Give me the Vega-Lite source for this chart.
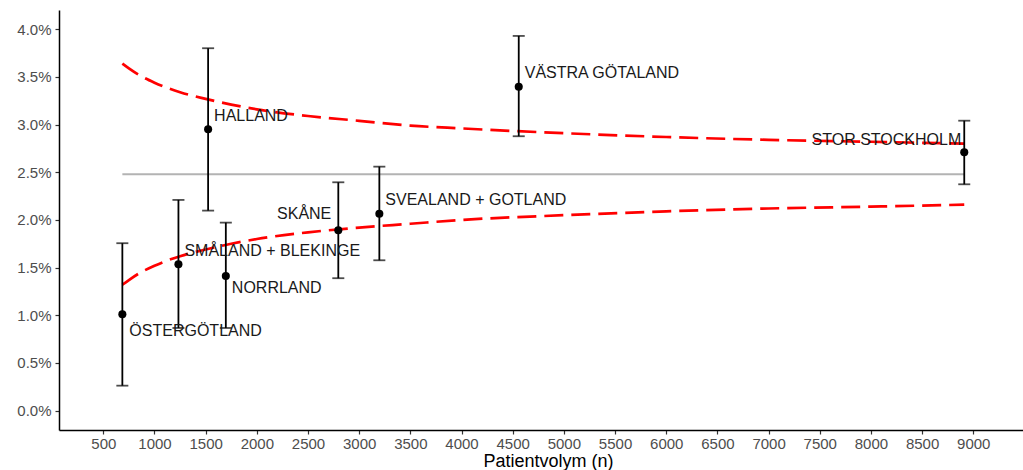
{
  "$schema": "https://vega.github.io/schema/vega-lite/v6.json",
  "width": 964,
  "height": 420,
  "autosize": {"type": "none"},
  "padding": {"left": 59, "top": 10, "right": 0, "bottom": 40},
  "background": "white",
  "config": {"view": {"stroke": null}, "font": "Liberation Sans"},
  "datasets": {
    "regions": [
      {"name": "ÖSTERGÖTLAND", "n": 686, "rate": 0.01011, "lo": 0.00262, "hi": 0.01756},
      {"name": "SMÅLAND + BLEKINGE", "n": 1234, "rate": 0.01535, "lo": 0.00867, "hi": 0.02210},
      {"name": "HALLAND", "n": 1524, "rate": 0.02951, "lo": 0.02098, "hi": 0.03801},
      {"name": "NORRLAND", "n": 1697, "rate": 0.01413, "lo": 0.00867, "hi": 0.01972},
      {"name": "SKÅNE", "n": 2796, "rate": 0.01892, "lo": 0.01389, "hi": 0.02395},
      {"name": "SVEALAND + GOTLAND", "n": 3197, "rate": 0.02066, "lo": 0.01577, "hi": 0.02559},
      {"name": "VÄSTRA GÖTALAND", "n": 4559, "rate": 0.03398, "lo": 0.02878, "hi": 0.03930},
      {"name": "STOR STOCKHOLM", "n": 8912, "rate": 0.02710, "lo": 0.02374, "hi": 0.03041}
    ],
    "limits": [
      {"n": 686, "upper": 0.0364, "lower": 0.0132, "mean": 0.02479},
      {"n": 750, "upper": 0.0359, "lower": 0.0137, "mean": 0.02479},
      {"n": 850, "upper": 0.0352, "lower": 0.0144, "mean": 0.02479},
      {"n": 1000, "upper": 0.0344, "lower": 0.0152, "mean": 0.02479},
      {"n": 1250, "upper": 0.0334, "lower": 0.0162, "mean": 0.02479},
      {"n": 1500, "upper": 0.0327, "lower": 0.0169, "mean": 0.02479},
      {"n": 1750, "upper": 0.0321, "lower": 0.0175, "mean": 0.02479},
      {"n": 2000, "upper": 0.0316, "lower": 0.0180, "mean": 0.02479},
      {"n": 2500, "upper": 0.0309, "lower": 0.0187, "mean": 0.02479},
      {"n": 3000, "upper": 0.0304, "lower": 0.0192, "mean": 0.02479},
      {"n": 3500, "upper": 0.0299, "lower": 0.0196, "mean": 0.02479},
      {"n": 4000, "upper": 0.0296, "lower": 0.0200, "mean": 0.02479},
      {"n": 5000, "upper": 0.0291, "lower": 0.0205, "mean": 0.02479},
      {"n": 6000, "upper": 0.0287, "lower": 0.0209, "mean": 0.02479},
      {"n": 7000, "upper": 0.0284, "lower": 0.0212, "mean": 0.02479},
      {"n": 8000, "upper": 0.0282, "lower": 0.0214, "mean": 0.02479},
      {"n": 8912, "upper": 0.0280, "lower": 0.0216, "mean": 0.02479}
    ]
  },
  "encoding": {
    "x": {
      "field": "n",
      "type": "quantitative",
      "scale": {"domain": [67, 9486], "nice": false, "zero": false},
      "axis": {
        "title": "Patientvolym (n)",
        "values": [500, 1000, 1500, 2000, 2500, 3000, 3500, 4000, 4500, 5000, 5500, 6000, 6500, 7000, 7500, 8000, 8500, 9000],
        "format": "d",
        "grid": false,
        "labelFontSize": 15,
        "labelColor": "#4d4d4d",
        "labelFlush": false,
        "labelOverlap": false,
        "labelPadding": 2,
        "tickSize": 4,
        "tickColor": "#333333",
        "tickWidth": 1.2,
        "domainColor": "#000000",
        "domainWidth": 1.5,
        "titleFontSize": 18,
        "titleFontWeight": "normal",
        "titleColor": "#000000",
        "titlePadding": 1,
        "titleX": 489
      }
    }
  },
  "layer": [
    {
      "data": {"name": "limits"},
      "mark": {"type": "line", "color": "#b3b3b3", "strokeWidth": 2},
      "encoding": {
        "y": {
          "field": "mean",
          "type": "quantitative",
          "title": null,
          "scale": {"domain": [-0.00203, 0.04202], "nice": false, "zero": false},
          "axis": {
            "title": null,
            "values": [0, 0.005, 0.01, 0.015, 0.02, 0.025, 0.03, 0.035, 0.04],
            "format": ".1%",
            "grid": false,
            "labelFontSize": 15,
            "labelColor": "#4d4d4d",
            "labelPadding": 4,
            "tickSize": 4,
            "tickColor": "#333333",
            "tickWidth": 1.2,
            "domainColor": "#000000",
            "domainWidth": 1.5
          }
        }
      }
    },
    {
      "data": {"name": "limits"},
      "mark": {"type": "line", "color": "#ff0000", "strokeWidth": 2.7, "strokeDash": [19, 8], "interpolate": "monotone"},
      "encoding": {"y": {"field": "upper", "type": "quantitative", "title": null}}
    },
    {
      "data": {"name": "limits"},
      "mark": {"type": "line", "color": "#ff0000", "strokeWidth": 2.7, "strokeDash": [19, 8], "interpolate": "monotone"},
      "encoding": {"y": {"field": "lower", "type": "quantitative", "title": null}}
    },
    {
      "data": {"name": "regions"},
      "mark": {"type": "errorbar", "color": "#000000", "thickness": 1.8, "ticks": {"size": 12, "thickness": 1.8, "color": "#000000"}},
      "encoding": {
        "y": {"field": "lo", "type": "quantitative", "title": null},
        "y2": {"field": "hi"}
      }
    },
    {
      "data": {"name": "regions"},
      "mark": {"type": "point", "filled": true, "color": "#000000", "opacity": 1, "size": 65},
      "encoding": {"y": {"field": "rate", "type": "quantitative", "title": null}}
    },
    {
      "data": {"name": "regions"},
      "transform": [{"filter": {"field": "name", "oneOf": ["SMÅLAND + BLEKINGE", "HALLAND", "SVEALAND + GOTLAND", "VÄSTRA GÖTALAND"]}}],
      "mark": {"type": "text", "align": "left", "baseline": "middle", "dx": 6, "dy": -13.5, "fontSize": 16, "color": "#1a1a1a"},
      "encoding": {"y": {"field": "rate", "type": "quantitative", "title": null}, "text": {"field": "name"}}
    },
    {
      "data": {"name": "regions"},
      "transform": [{"filter": {"field": "name", "equal": "NORRLAND"}}],
      "mark": {"type": "text", "align": "left", "baseline": "middle", "dx": 6, "dy": 12, "fontSize": 16, "color": "#1a1a1a"},
      "encoding": {"y": {"field": "rate", "type": "quantitative", "title": null}, "text": {"field": "name"}}
    },
    {
      "data": {"name": "regions"},
      "transform": [{"filter": {"field": "name", "equal": "ÖSTERGÖTLAND"}}],
      "mark": {"type": "text", "align": "left", "baseline": "middle", "dx": 7, "dy": 17, "fontSize": 16, "color": "#1a1a1a"},
      "encoding": {"y": {"field": "rate", "type": "quantitative", "title": null}, "text": {"field": "name"}}
    },
    {
      "data": {"name": "regions"},
      "transform": [{"filter": {"field": "name", "equal": "SKÅNE"}}],
      "mark": {"type": "text", "align": "right", "baseline": "middle", "dx": -7, "dy": -16, "fontSize": 16, "color": "#1a1a1a"},
      "encoding": {"y": {"field": "rate", "type": "quantitative", "title": null}, "text": {"field": "name"}}
    },
    {
      "data": {"name": "regions"},
      "transform": [{"filter": {"field": "name", "equal": "STOR STOCKHOLM"}}],
      "mark": {"type": "text", "align": "right", "baseline": "middle", "dx": -3, "dy": -12.5, "fontSize": 16, "color": "#1a1a1a"},
      "encoding": {"y": {"field": "rate", "type": "quantitative", "title": null}, "text": {"field": "name"}}
    }
  ]
}
